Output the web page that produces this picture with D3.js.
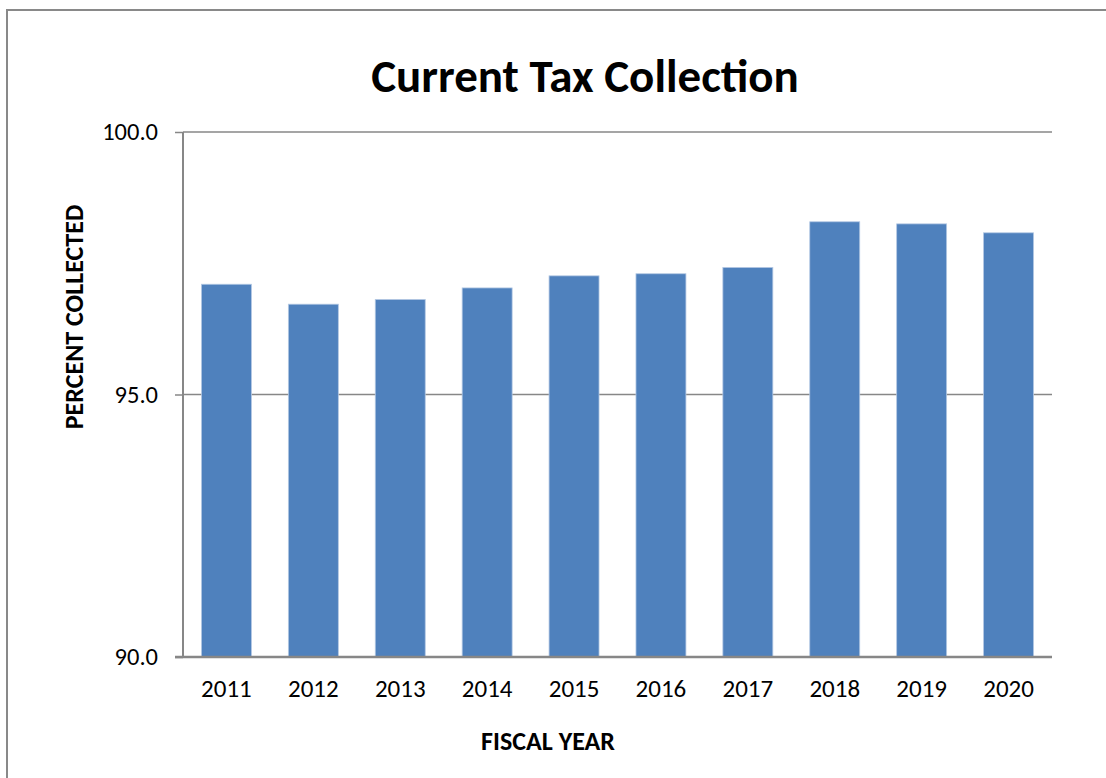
<!DOCTYPE html>
<html><head><meta charset="utf-8">
<script src="https://cdn.jsdelivr.net/npm/d3@7"></script>
<style>body{margin:0;background:#fff}svg{display:block}text{font-family:Carlito,Lato,"Liberation Sans",sans-serif}</style>
</head><body>
<svg id="c" width="1106" height="778"></svg>
<script>
const years = ["2011","2012","2013","2014","2015","2016","2017","2018","2019","2020"];
const percentCollected = [97.1, 96.72, 96.81, 97.03, 97.26, 97.3, 97.42, 98.29, 98.25, 98.08];
const yTicks = [90, 95, 100];
const title = "Current Tax Collection";
const xTitle = "FISCAL YEAR";
const yTitle = "PERCENT COLLECTED";

const svg = d3.select("#c");
const m = {l:183, r:1052, t:132, b:657};

svg.append("rect").attr("x",7).attr("y",10).attr("width",1120).attr("height",800)
  .attr("fill","none").attr("stroke","#898989").attr("stroke-width",2);

const x = d3.scaleBand().domain(years).range([m.l, m.r]).paddingInner(0.425).paddingOuter(0.2125);
const y = d3.scaleLinear().domain([90,100]).range([m.b, m.t]);

// gridlines
svg.append("g").selectAll("line").data(yTicks.filter(d=>d!==90)).join("line")
  .attr("x1",m.l).attr("x2",m.r).attr("y1",d=>y(d)).attr("y2",d=>y(d))
  .attr("stroke","#878787").attr("stroke-width",1.5);

// bars
svg.append("g").selectAll("rect").data(years).join("rect")
  .attr("x",d=>x(d)).attr("width",x.bandwidth())
  .attr("y",(d,i)=>y(percentCollected[i])).attr("height",(d,i)=>y(90)-y(percentCollected[i]))
  .attr("fill","#4F81BD").attr("stroke","#b3c8e3").attr("stroke-width",0.8);

// y axis
const ya = d3.axisLeft(y).tickValues(yTicks).tickFormat(d3.format(".1f")).tickSize(8).tickPadding(17);
const yg = svg.append("g").attr("transform",`translate(${m.l},0)`).call(ya);
yg.select(".domain").attr("stroke","#878787").attr("stroke-width",2).attr("d",`M0,${m.t}V${m.b}`);
yg.selectAll(".tick line").attr("stroke","#878787").attr("stroke-width",1.5);
yg.selectAll(".tick text").attr("font-size",24.5).attr("fill","#000");

// x axis
const xa = d3.axisBottom(x).tickSize(0).tickPadding(22);
const xg = svg.append("g").attr("transform",`translate(0,${m.b})`).call(xa);
xg.select(".domain").attr("stroke","#878787").attr("stroke-width",2.5).attr("d",`M${m.l-8},0H${m.r}`);
xg.selectAll(".tick text").attr("font-size",25).attr("fill","#000");

// titles
svg.append("text").attr("x",585).attr("y",92).attr("text-anchor","middle")
  .attr("font-size",47).attr("font-weight","bold").text(title);
svg.append("text").attr("x",548).attr("y",750).attr("text-anchor","middle")
  .attr("font-size",26).attr("font-weight","bold").text(xTitle);
svg.append("text").attr("transform","translate(83,317) rotate(-90)").attr("text-anchor","middle")
  .attr("font-size",26).attr("font-weight","bold").text(yTitle);
</script>
</body></html>
